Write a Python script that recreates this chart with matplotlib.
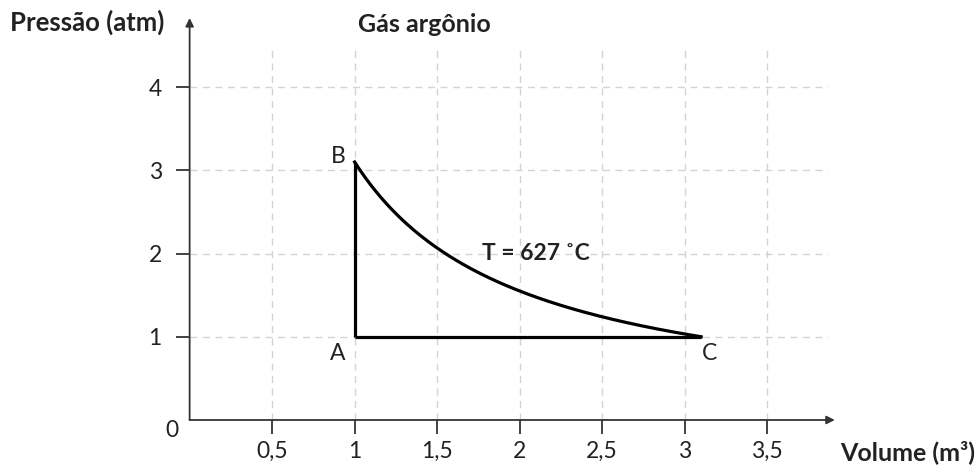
import numpy as np
import matplotlib
matplotlib.use("Agg")
import matplotlib.pyplot as plt

plt.rcParams['font.family'] = ['Lato', 'DejaVu Sans']

# data
x_ticks = [0.5, 1, 1.5, 2, 2.5, 3, 3.5]
x_labels = ["0,5", "1", "1,5", "2", "2,5", "3", "3,5"]
y_ticks = [1, 2, 3, 4]
y_labels = ["1", "2", "3", "4"]

point_names = ["A", "B", "C"]
vol = [1.0, 1.0, 3.1]      # m^3
pres = [1.0, 3.1, 1.0]     # atm
nRT = 3.1                  # isotherm constant (atm.m^3)

fig = plt.figure(figsize=(9.78, 4.65), dpi=100)
ax = fig.add_axes([0.1939, 0.0968, 0.658, 0.80])
ax.set_xlim(0, 3.9)
ax.set_ylim(0, 4.47)

for s in ax.spines.values():
    s.set_visible(False)

# grid
for xv in x_ticks:
    ax.plot([xv, xv], [0, 4.47], color='#d3d3d3', lw=1, ls=(0, (5, 4)), zorder=1)
for yv in y_ticks:
    ax.plot([0, 3.87], [yv, yv], color='#d3d3d3', lw=1, ls=(0, (5, 4)), zorder=1)

# axes with arrows
ax.annotate('', xy=(3.91, 0), xytext=(0, 0),
            arrowprops=dict(arrowstyle='-|>', color='#333333', lw=1.3,
                            mutation_scale=12, shrinkA=0, shrinkB=0),
            annotation_clip=False)
ax.annotate('', xy=(0, 4.83), xytext=(0, 0),
            arrowprops=dict(arrowstyle='-|>', color='#333333', lw=1.3,
                            mutation_scale=12, shrinkA=0, shrinkB=0),
            annotation_clip=False)

ax.set_xticks(x_ticks)
ax.set_xticklabels(x_labels)
ax.set_yticks(y_ticks)
ax.set_yticklabels(y_labels)
ax.tick_params(axis='both', length=10, width=1.3, color='#333333',
               labelsize=16.5, labelcolor='#222222')
ax.tick_params(axis='x', pad=5)
ax.tick_params(axis='y', pad=10)

# cycle
ax.plot([vol[0], vol[1]], [pres[0], pres[1]], color='black', lw=2.3,
        solid_capstyle='butt', zorder=3)
ax.plot([vol[0], vol[2]], [pres[0], pres[2]], color='black', lw=2.3,
        solid_capstyle='butt', zorder=3)
v = np.linspace(vol[1], vol[2], 200)
ax.plot(v, nRT / v, color='black', lw=2.3, zorder=3)

ax.text(vol[0] - 0.1, pres[0] - 0.2, point_names[0], fontsize=16.5,
        ha='center', va='center', color='#222222')
ax.text(vol[1] - 0.1, pres[1] + 0.07, point_names[1], fontsize=16.5,
        ha='center', va='center', color='#222222')
ax.text(vol[2] + 0.05, pres[2] - 0.2, point_names[2], fontsize=16.5,
        ha='center', va='center', color='#222222')

ax.text(2.1, 2.0, "T = 627 ˚C", fontsize=16.5, fontweight='bold',
        ha='center', va='center', color='#222222')

fig.text(172 / 978, 1 - 430 / 465, "0", fontsize=16.5, ha='center', va='center',
         color='#222222')
fig.text(10 / 978, 1 - 22 / 465, "Pressão (atm)", fontsize=18.5, fontweight='bold',
         ha='left', va='center', color='#222222')
fig.text(358 / 978, 1 - 25 / 465, "Gás argônio", fontsize=18, fontweight='bold',
         ha='left', va='center', color='#222222')
fig.text(975 / 978, 1 - 452 / 465, "Volume (m³)", fontsize=18, fontweight='bold',
         ha='right', va='center', color='#222222')

fig.savefig("out.png", dpi=100)
